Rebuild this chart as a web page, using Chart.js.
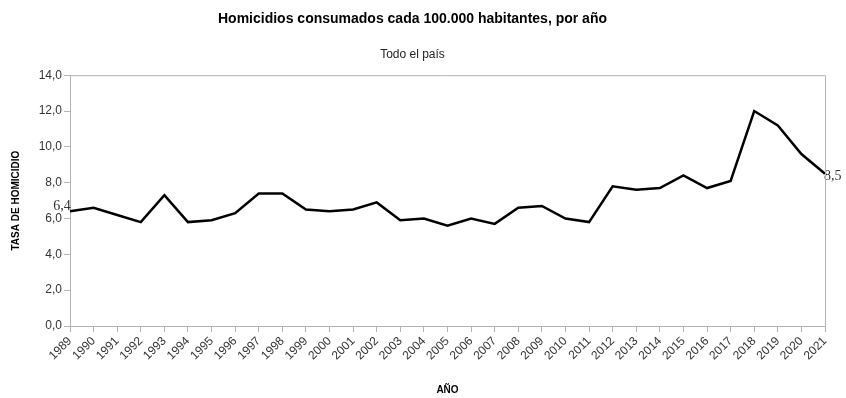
<!DOCTYPE html>
<html>
<head>
<meta charset="utf-8">
<script src="https://cdn.jsdelivr.net/npm/chart.js@4/dist/chart.umd.min.js"></script>
<style>
  html, body { margin: 0; padding: 0; background: #fff; }
  #wrap { width: 846px; height: 398px; }
</style>
</head>
<body>
<div id="wrap"><canvas id="grafico" width="846" height="398"></canvas></div>
<script>
// Tasa de homicidios cada 100.000 habitantes - todo el país
const anios = ["1989","1990","1991","1992","1993","1994","1995","1996","1997","1998",
  "1999","2000","2001","2002","2003","2004","2005","2006","2007","2008","2009","2010",
  "2011","2012","2013","2014","2015","2016","2017","2018","2019","2020","2021"];
const tasas = [6.4, 6.6, 6.2, 5.8, 7.3, 5.8, 5.9, 6.3, 7.4, 7.4,
  6.5, 6.4, 6.5, 6.9, 5.9, 6.0, 5.6, 6.0, 5.7, 6.6, 6.7, 6.0,
  5.8, 7.8, 7.6, 7.7, 8.4, 7.7, 8.1, 12.0, 11.2, 9.6, 8.5];
const ticksY = [0, 2, 4, 6, 8, 10, 12, 14];

const gris = '#b3b3b3';
const textoColor = '#333333';
const fuente = "'Liberation Sans', Arial, sans-serif";

const fmt = v => v.toFixed(1).replace('.', ',');

// marco del área de gráfico (arriba y derecha)
const marco = {
  id: 'marco',
  afterDraw(chart) {
    const a = chart.chartArea, ctx = chart.ctx;
    ctx.save();
    ctx.strokeStyle = gris;
    ctx.lineWidth = 1;
    ctx.beginPath();
    ctx.moveTo(a.left, a.top + 0.5);
    ctx.lineTo(a.right + 0.5, a.top + 0.5);
    ctx.lineTo(a.right + 0.5, a.bottom);
    ctx.stroke();
    ctx.restore();
  }
};

// etiquetas del primer y último valor
const etiquetas = {
  id: 'etiquetas',
  afterDatasetsDraw(chart) {
    const ctx = chart.ctx;
    const x = chart.scales.x, y = chart.scales.y;
    const n = tasas.length - 1;
    ctx.save();
    ctx.font = "14px 'Liberation Serif', 'DejaVu Serif', serif";
    ctx.fillStyle = textoColor;
    ctx.textAlign = 'center';
    ctx.textBaseline = 'bottom';
    ctx.fillText(fmt(tasas[0]), x.getPixelForValue(0) - 8, y.getPixelForValue(tasas[0]) + 2);
    ctx.textAlign = 'left';
    ctx.textBaseline = 'middle';
    ctx.fillText(fmt(tasas[n]), x.getPixelForValue(n) - 1, y.getPixelForValue(tasas[n]) + 3);
    ctx.restore();
  }
};

new Chart(document.getElementById('grafico'), {
  type: 'line',
  data: {
    labels: anios,
    datasets: [{
      data: tasas,
      borderColor: '#000',
      borderWidth: 2.5,
      pointRadius: 0,
      tension: 0,
      fill: false
    }]
  },
  options: {
    responsive: false,
    animation: false,
    layout: { padding: { left: 0, right: 21, top: 0, bottom: 0 } },
    plugins: {
      legend: { display: false },
      tooltip: { enabled: false },
      title: {
        display: true,
        text: 'Homicidios consumados cada 100.000 habitantes, por año',
        color: '#000',
        font: { family: fuente, size: 14, weight: 'bold' },
        padding: { top: 11, bottom: 20 }
      },
      subtitle: {
        display: true,
        text: 'Todo el país',
        color: '#222',
        font: { family: fuente, size: 12 },
        padding: { top: 0, bottom: 13 }
      }
    },
    scales: {
      x: {
        offset: false,
        grid: { drawOnChartArea: false, color: gris, tickLength: 6 },
        border: { color: gris },
        ticks: {
          color: textoColor,
          font: { family: fuente, size: 12 },
          maxRotation: 45,
          minRotation: 45,
          autoSkip: false,
          padding: 2
        },
        title: {
          display: true,
          text: 'AÑO',
          color: '#000',
          font: { family: fuente, size: 10, weight: 'bold' },
          padding: { top: 0, bottom: 2 }
        },
        afterFit(s) { s.height = 72; }
      },
      y: {
        min: 0,
        max: 14,
        afterBuildTicks(s) { s.ticks = ticksY.map(v => ({ value: v })); },
        grid: { drawOnChartArea: false, color: gris, tickLength: 6 },
        border: { color: gris },
        ticks: {
          color: textoColor,
          font: { family: fuente, size: 12 },
          padding: 2,
          callback: v => fmt(v)
        },
        title: {
          display: true,
          text: 'TASA DE HOMICIDIO',
          color: '#000',
          font: { family: fuente, size: 10, weight: 'bold' },
          padding: { top: 10, bottom: 0 }
        },
        afterFit(s) { s.width = 70; }
      }
    }
  },
  plugins: [marco, etiquetas]
});
</script>
</body>
</html>
